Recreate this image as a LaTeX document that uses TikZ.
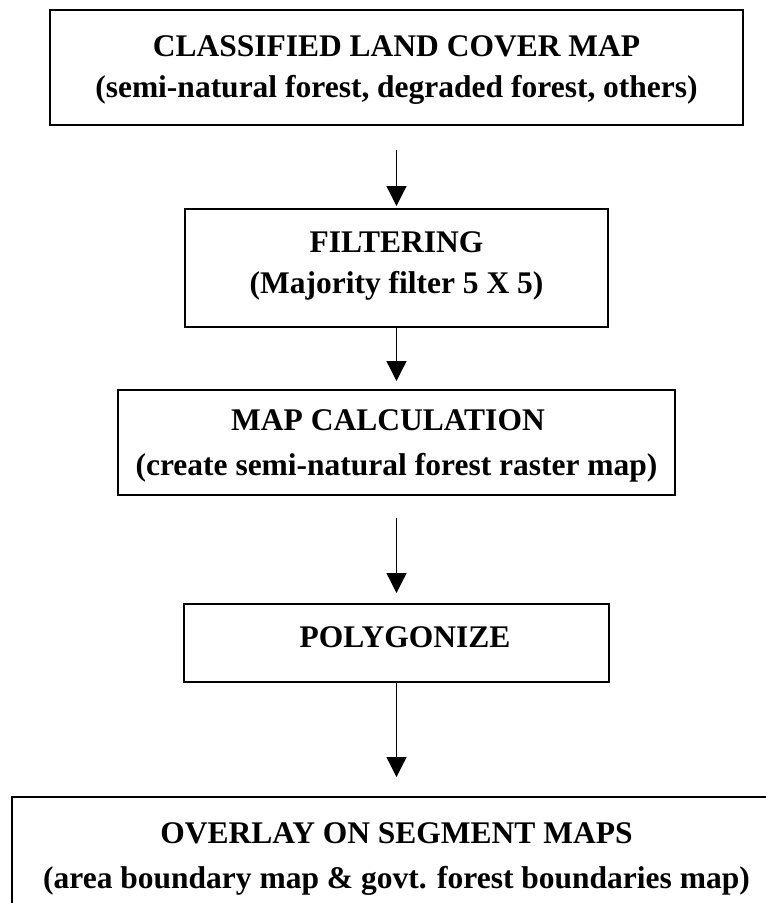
\documentclass[tikz,border=0pt]{standalone}
\usepackage{fontspec}
\setmainfont{Liberation Serif}
\usetikzlibrary{arrows.meta}

\tikzset{
  stagebox/.style={draw=black, line width=2pt, inner sep=0pt, rectangle},
  caption/.style={inner sep=0pt, anchor=base,
    font=\fontsize{31.5}{40}\selectfont\bfseries},
  flow/.style={draw=black, line width=1.3pt,
    -{Triangle[length=20pt,width=20pt]}},
}

\begin{document}
\begin{tikzpicture}[x=1pt,y=-1pt]
  \useasboundingbox (0,0) rectangle (766,903);
  \begin{scope}
    \clip (0,0) rectangle (766,903);

    % stage boxes
    \node[stagebox, minimum width=693pt, minimum height=115pt] (b1) at (396.5,67.5) {};
    \node[stagebox, minimum width=423pt, minimum height=118pt] (b2) at (396.5,268) {};
    \node[stagebox, minimum width=557pt, minimum height=105pt] (b3) at (396.5,442.5) {};
    \node[stagebox, minimum width=425pt, minimum height=78pt]  (b4) at (396.5,643) {};
    \node[stagebox, minimum width=769pt, minimum height=170pt] (b5) at (396.5,882) {};

    % stage texts
    \node[caption] (t1a) at (396.5,56) {CLASSIFIED LAND COVER MAP};
    \node[caption] (t1b) at (396.5,97) {(semi-natural forest, degraded forest, others)};
    \node[caption] (t2a) at (396.5,252) {FILTERING};
    \node[caption] (t2b) at (396.5,293) {(Majority filter 5 X 5)};
    \node[caption] (t3a) at (388,430) {MAP CALCULATION};
    \node[caption] (t3b) at (396.5,475) {(create semi-natural forest raster map)};
    \node[caption] (t4)  at (405,647) {POLYGONIZE};
    \node[caption] (t5a) at (396.5,843) {OVERLAY ON SEGMENT MAPS};
    \node[caption] (t5b) at (396.5,888) {(area boundary map \& govt. forest boundaries map)};

    % flow arrows
    \draw[flow, shorten <=24pt, shorten >=2pt]  (b1.south) -- (b2.north);
    \draw[flow, shorten >=8pt]                  (b2.south) -- (b3.north);
    \draw[flow, shorten <=22pt, shorten >=10pt] (b3.south) -- (b4.north);
    \draw[flow, shorten >=19pt]                 (b4.south) -- (b5.north);
  \end{scope}
\end{tikzpicture}
\end{document}
